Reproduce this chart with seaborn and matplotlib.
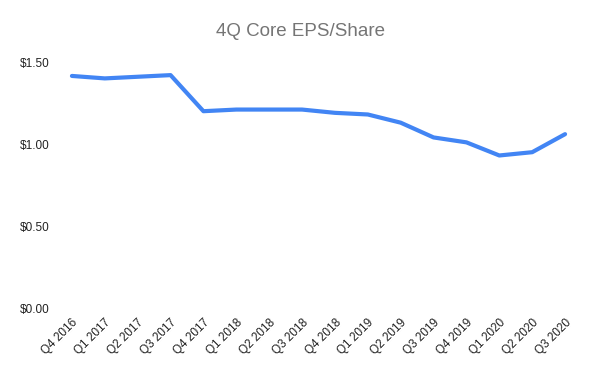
import matplotlib
matplotlib.use('Agg')
import matplotlib.pyplot as plt
import seaborn as sns

# quarters and 4Q core EPS per share
quarters = ['Q4 2016', 'Q1 2017', 'Q2 2017', 'Q3 2017', 'Q4 2017', 'Q1 2018',
            'Q2 2018', 'Q3 2018', 'Q4 2018', 'Q1 2019', 'Q2 2019', 'Q3 2019',
            'Q4 2019', 'Q1 2020', 'Q2 2020', 'Q3 2020']
eps = [1.415, 1.40, 1.41, 1.42, 1.20, 1.21, 1.21, 1.21, 1.19, 1.18,
       1.13, 1.04, 1.01, 0.93, 0.95, 1.06]
yticks = [0.0, 0.5, 1.0, 1.5]

sns.set_style("white")
plt.rcParams['font.family'] = ['Liberation Sans', 'DejaVu Sans']

fig = plt.figure(figsize=(6, 3.71), dpi=100)
ax = fig.add_axes([55.5 / 600, 63 / 371, 526 / 600, 246 / 371])

sns.lineplot(x=list(range(len(quarters))), y=eps, ax=ax, color='#4285F4', linewidth=3)

ax.set_xlim(-0.5, len(quarters) - 0.5)
ax.set_ylim(0, 1.5)
ax.set_yticks(yticks)
ax.set_yticklabels(['${:.2f}'.format(v) for v in yticks], fontsize=8.5, color='#222222')
ax.set_xticks(range(len(quarters)))
ax.set_xticklabels(quarters, rotation=45, ha='right', rotation_mode='anchor',
                   fontsize=8.5, color='#222222')
ax.tick_params(axis='x', length=0, pad=6)
ax.tick_params(axis='y', length=0, pad=4)
for s in ax.spines.values():
    s.set_visible(False)

fig.text(0.5, 1 - 32 / 371, '4Q Core EPS/Share', ha='center', va='center',
         fontsize=13.5, color='#757575')

plt.savefig('out.png', dpi=100)
